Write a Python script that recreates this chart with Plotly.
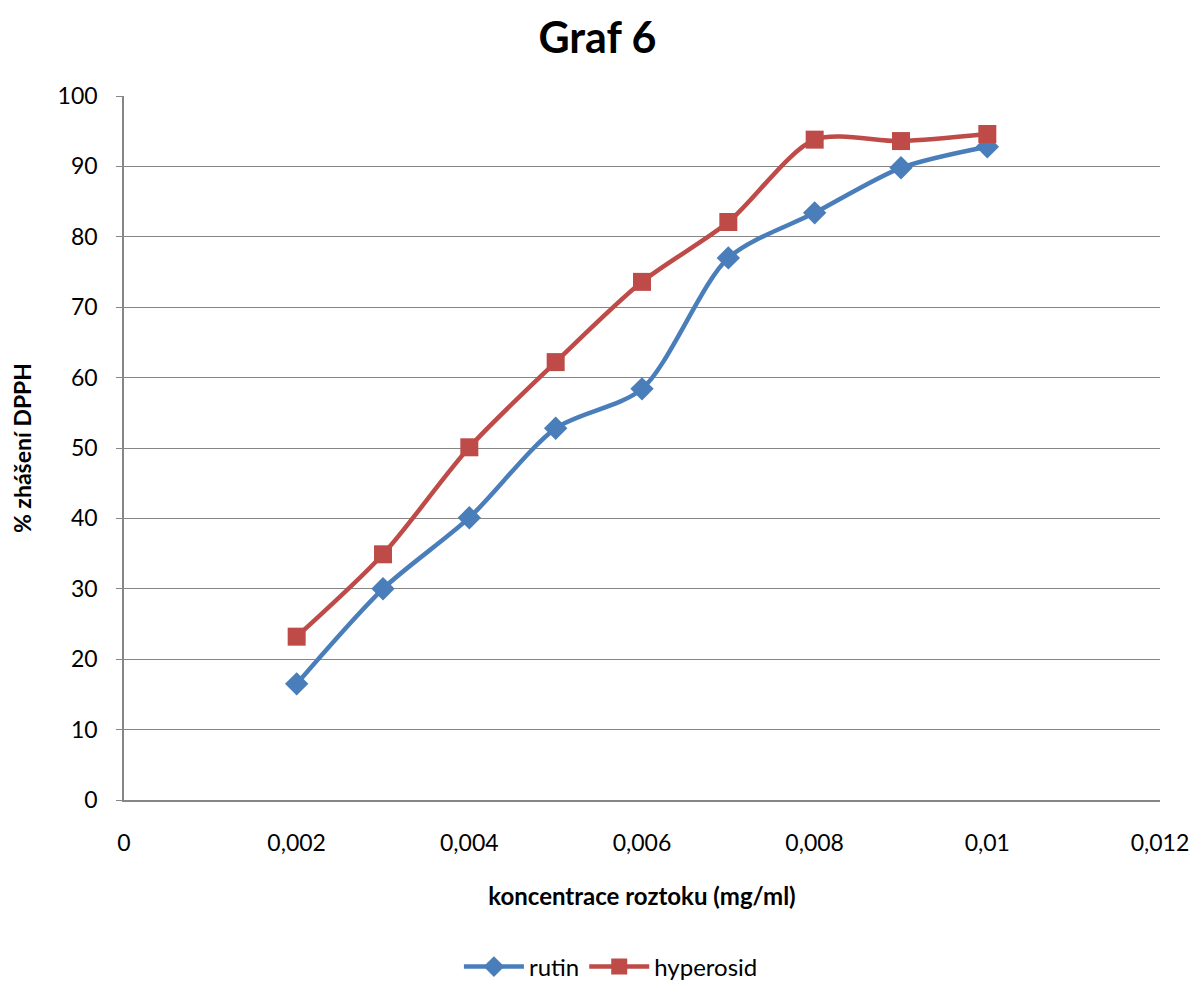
import plotly.graph_objects as go

# concentration of solution (mg/ml)
concentration = [0.002, 0.003, 0.004, 0.005, 0.006, 0.007, 0.008, 0.009, 0.010]
# % DPPH quenching
rutin = [16.5, 30.0, 40.1, 52.8, 58.4, 77.0, 83.4, 89.8, 92.8]
hyperosid = [23.2, 34.9, 50.1, 62.2, 73.6, 82.1, 93.8, 93.6, 94.6]

x_tick_vals = [0, 0.002, 0.004, 0.006, 0.008, 0.010, 0.012]
x_tick_text = ["0", "0,002", "0,004", "0,006", "0,008", "0,01", "0,012"]
y_tick_vals = list(range(0, 101, 10))

FONT = "Lato, 'Open Sans', sans-serif"
BLUE = "#4A7EBB"
RED = "#BE4B48"
AXIS_GREY = "#868686"

fig = go.Figure()
fig.add_trace(go.Scatter(
    x=concentration, y=rutin, name="rutin", mode="lines+markers",
    line=dict(color=BLUE, width=4.5, shape="spline", smoothing=0.8),
    marker=dict(symbol="diamond", size=18, color=BLUE),
))
fig.add_trace(go.Scatter(
    x=concentration, y=hyperosid, name="hyperosid", mode="lines+markers",
    line=dict(color=RED, width=4.5, shape="spline", smoothing=0.8),
    marker=dict(symbol="square", size=18, color=RED),
))

fig.update_layout(
    width=1195, height=981,
    paper_bgcolor="white", plot_bgcolor="white",
    margin=dict(l=124, r=35, t=96, b=181),
    font=dict(family=FONT, color="#000000"),
    title=dict(text="<b>Graf 6</b>", x=0.5, xanchor="center",
               y=0.961, yanchor="middle", font=dict(size=43, family=FONT)),
    showlegend=True,
    legend=dict(orientation="h", x=0.47, xanchor="center",
                yref="container", y=0.0143, yanchor="middle",
                font=dict(size=24, family=FONT), itemwidth=60),
)

fig.update_xaxes(
    range=[0, 0.012], tickvals=x_tick_vals, ticktext=x_tick_text,
    showgrid=False, zeroline=False, automargin=False,
    showline=True, linecolor=AXIS_GREY, linewidth=1.5,
    ticks="", tickfont=dict(size=23, family=FONT), ticklabelstandoff=22,
    title=dict(text="<b>koncentrace roztoku (mg/ml)</b>", font=dict(size=24, family=FONT), standoff=33),
)
fig.update_yaxes(
    range=[0, 100], tickvals=y_tick_vals,
    showgrid=True, gridcolor=AXIS_GREY, gridwidth=1.2, zeroline=False, automargin=False,
    showline=True, linecolor=AXIS_GREY, linewidth=1.5,
    ticks="outside", ticklen=6, tickcolor=AXIS_GREY,
    tickfont=dict(size=23, family=FONT), ticklabelstandoff=14,
    title=dict(text="<b>% zhášení DPPH</b>", font=dict(size=23, family=FONT), standoff=20),
)

fig.write_html("out.html")
